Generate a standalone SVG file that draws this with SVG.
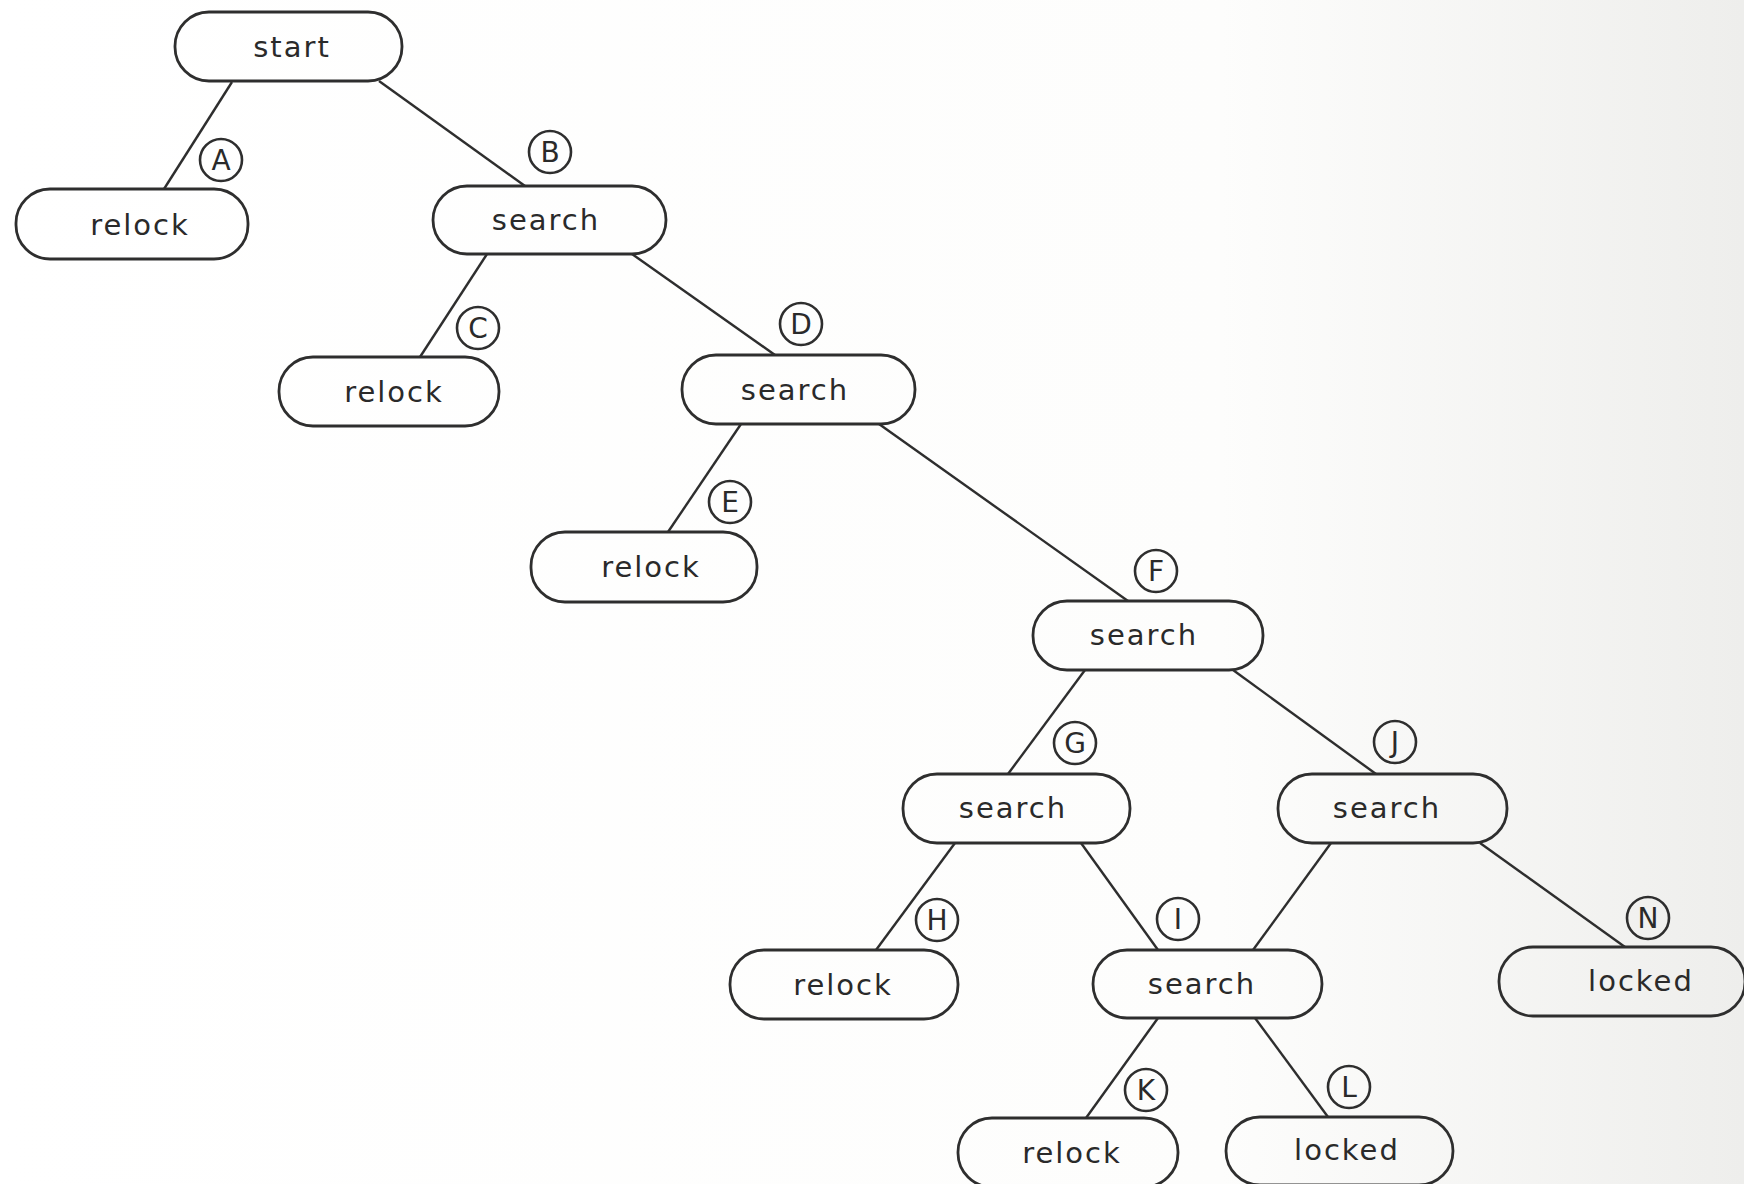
<svg xmlns="http://www.w3.org/2000/svg" width="1744" height="1184" viewBox="0 0 1744 1184">
<defs>
<linearGradient id="bg" x1="0" y1="0" x2="1" y2="0">
<stop offset="0" stop-color="#ffffff"/>
<stop offset="0.7" stop-color="#fdfdfc"/>
<stop offset="1" stop-color="#eeeeec"/>
</linearGradient>
<style>
.node rect{fill:none;stroke:#2e2e2e;stroke-width:2.8}
.node text{font-family:"DejaVu Sans","Liberation Sans",sans-serif;font-size:29px;fill:#2a2a2a;text-anchor:middle;letter-spacing:2px}
.conn line{stroke:#2e2e2e;stroke-width:2.4}
.lab circle{fill:none;stroke:#2e2e2e;stroke-width:2.6}
.lab text{font-family:"DejaVu Sans","Liberation Sans",sans-serif;font-size:28px;fill:#2a2a2a;text-anchor:middle}
</style>
</defs>
<rect width="1744" height="1184" fill="url(#bg)"/>
<g id="connectors" class="conn">
<line x1="232" y1="82" x2="164" y2="189"/>
<line x1="379" y1="81" x2="525" y2="186"/>
<line x1="487" y1="254" x2="420" y2="357"/>
<line x1="632" y1="254" x2="775" y2="355"/>
<line x1="741" y1="424" x2="668" y2="532"/>
<line x1="879" y1="424" x2="1128" y2="601"/>
<line x1="1085" y1="670" x2="1008" y2="774"/>
<line x1="1233" y1="670" x2="1376" y2="774"/>
<line x1="955" y1="843" x2="876" y2="950"/>
<line x1="1081" y1="843" x2="1158" y2="950"/>
<line x1="1331" y1="843" x2="1253" y2="950"/>
<line x1="1480" y1="843" x2="1625" y2="947"/>
<line x1="1158" y1="1018" x2="1086" y2="1118"/>
<line x1="1255" y1="1018" x2="1328" y2="1117"/>
</g>
<g id="labels" class="lab">
<g id="lab-A"><circle cx="221" cy="160" r="21"/><text x="221" y="170">A</text></g>
<g id="lab-B"><circle cx="550" cy="152" r="21"/><text x="550" y="162">B</text></g>
<g id="lab-C"><circle cx="478" cy="328" r="21"/><text x="478" y="338">C</text></g>
<g id="lab-D"><circle cx="801" cy="324" r="21"/><text x="801" y="334">D</text></g>
<g id="lab-E"><circle cx="730" cy="502" r="21"/><text x="730" y="512">E</text></g>
<g id="lab-F"><circle cx="1156" cy="571" r="21"/><text x="1156" y="581">F</text></g>
<g id="lab-G"><circle cx="1075" cy="743" r="21"/><text x="1075" y="753">G</text></g>
<g id="lab-J"><circle cx="1395" cy="742" r="21"/><text x="1395" y="752">J</text></g>
<g id="lab-H"><circle cx="937" cy="920" r="21"/><text x="937" y="930">H</text></g>
<g id="lab-I"><circle cx="1178" cy="919" r="21"/><text x="1178" y="929">I</text></g>
<g id="lab-N"><circle cx="1648" cy="918" r="21"/><text x="1648" y="928">N</text></g>
<g id="lab-K"><circle cx="1146" cy="1090" r="21"/><text x="1146" y="1100">K</text></g>
<g id="lab-L"><circle cx="1349" cy="1087" r="21"/><text x="1349" y="1097">L</text></g>
</g>
<g id="node-start" class="node"><rect x="175" y="12" width="227" height="69" rx="34"/><text x="292" y="57">start</text></g>
<g id="node-relockA" class="node"><rect x="16" y="189" width="232" height="70" rx="34"/><text x="140" y="235">relock</text></g>
<g id="node-searchB" class="node"><rect x="433" y="186" width="233" height="68" rx="34"/><text x="546" y="230">search</text></g>
<g id="node-relockC" class="node"><rect x="279" y="357" width="220" height="69" rx="34"/><text x="394" y="402">relock</text></g>
<g id="node-searchD" class="node"><rect x="682" y="355" width="233" height="69" rx="34"/><text x="795" y="400">search</text></g>
<g id="node-relockE" class="node"><rect x="531" y="532" width="226" height="70" rx="34"/><text x="651" y="577">relock</text></g>
<g id="node-searchF" class="node"><rect x="1033" y="601" width="230" height="69" rx="34"/><text x="1144" y="645">search</text></g>
<g id="node-searchG" class="node"><rect x="903" y="774" width="227" height="69" rx="34"/><text x="1013" y="818">search</text></g>
<g id="node-searchJ" class="node"><rect x="1278" y="774" width="229" height="69" rx="34"/><text x="1387" y="818">search</text></g>
<g id="node-relockH" class="node"><rect x="730" y="950" width="228" height="69" rx="34"/><text x="843" y="995">relock</text></g>
<g id="node-searchI" class="node"><rect x="1093" y="950" width="229" height="68" rx="34"/><text x="1202" y="994">search</text></g>
<g id="node-lockedN" class="node"><rect x="1499" y="947" width="246" height="69" rx="34"/><text x="1641" y="991">locked</text></g>
<g id="node-relockK" class="node"><rect x="958" y="1118" width="220" height="69" rx="34"/><text x="1072" y="1163">relock</text></g>
<g id="node-lockedL" class="node"><rect x="1226" y="1117" width="227" height="68" rx="34"/><text x="1347" y="1160">locked</text></g>
</svg>
